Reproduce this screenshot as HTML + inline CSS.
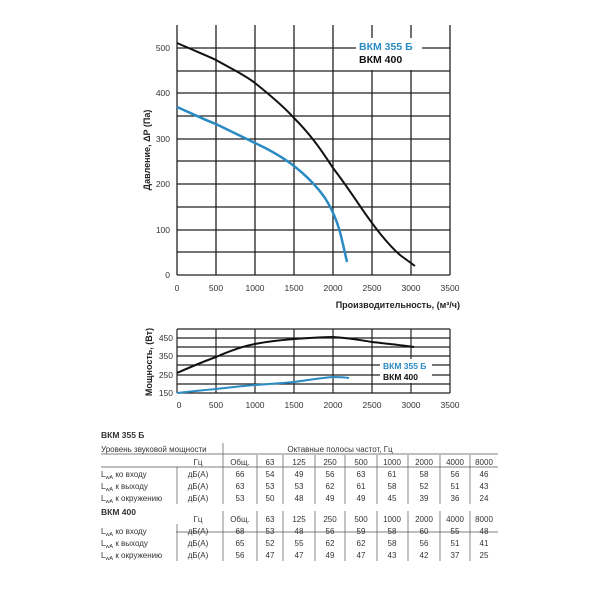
<!DOCTYPE html>
<html><head><meta charset="utf-8"><style>
html,body{margin:0;padding:0;background:#fff;}
svg{display:block;font-family:"Liberation Sans",sans-serif;}
</style></head><body>
<svg width="600" height="600" viewBox="0 0 600 600" xmlns="http://www.w3.org/2000/svg">
<g stroke="#222" stroke-width="1.3">
<line x1="177" y1="275" x2="450" y2="275"/><line x1="177" y1="252" x2="450" y2="252"/>
<line x1="177" y1="230" x2="450" y2="230"/><line x1="177" y1="207" x2="450" y2="207"/>
<line x1="177" y1="184" x2="450" y2="184"/><line x1="177" y1="161" x2="450" y2="161"/>
<line x1="177" y1="139" x2="450" y2="139"/><line x1="177" y1="116" x2="450" y2="116"/>
<line x1="177" y1="93" x2="450" y2="93"/><line x1="177" y1="71" x2="450" y2="71"/>
<line x1="177" y1="48" x2="450" y2="48"/>
<line x1="177" y1="25" x2="177" y2="275"/><line x1="216" y1="25" x2="216" y2="275"/>
<line x1="255" y1="25" x2="255" y2="275"/><line x1="294" y1="25" x2="294" y2="275"/>
<line x1="333" y1="25" x2="333" y2="275"/><line x1="372" y1="25" x2="372" y2="275"/>
<line x1="411" y1="25" x2="411" y2="275"/><line x1="450" y1="25" x2="450" y2="275"/>
</g>
<rect x="356" y="38" width="66" height="32" fill="#fff"/>
<text x="359" y="50" font-size="10.5" font-weight="bold" fill="#2a8ac4">ВКМ 355 Б</text>
<text x="359" y="63" font-size="10.5" font-weight="bold" fill="#111">ВКМ 400</text>
<g font-size="8.5" fill="#333" text-anchor="end">
<text x="170" y="278">0</text><text x="170" y="233">100</text><text x="170" y="187">200</text>
<text x="170" y="142">300</text><text x="170" y="96">400</text><text x="170" y="51">500</text>
</g>
<g font-size="8.5" fill="#333" text-anchor="middle">
<text x="177" y="291">0</text><text x="216" y="291">500</text><text x="255" y="291">1000</text>
<text x="294" y="291">1500</text><text x="333" y="291">2000</text><text x="372" y="291">2500</text>
<text x="411" y="291">3000</text><text x="450" y="291">3500</text>
</g>
<text x="460" y="308" font-size="9" font-weight="bold" fill="#222" text-anchor="end">Производительность, (м³/ч)</text>
<text transform="translate(150,150) rotate(-90)" font-size="9" font-weight="bold" fill="#222" text-anchor="middle">Давление, ΔP (Па)</text>
<path d="M177,43 C200,53 210,57 216,60 C230,68 245,75 255,83 C270,95 285,108 294,118 C310,134 320,148 333,168 C350,190 360,207 372,223 C385,240 395,252 399,258 C404,264 409,270 415,266" fill="none" stroke="#111" stroke-width="2" style="display:none"/>
<path d="M177,43 C200,53 210,57 216,60 C230,68 245,75 255,83 C270,95 285,108 294,118 C310,134 320,148 333,168 C350,190 360,207 372,223 C385,240 393,250 400,259 C405,265 410,270 415,266" fill="none" stroke="none"/>
<path d="M177,43 C200,53 210,57 216,60 C230,68 245,75 255,83 C270,95 285,108 294,118 C310,134 320,148 333,168 C350,190 360,207 372,223 C383,238 392,248 400,255 L415,266" fill="none" stroke="#111" stroke-width="2"/>
<path d="M177,107 C195,115 205,120 216,124 C230,131 243,137 255,143 C270,150 285,159 294,166 C308,177 318,188 325,198 C330,206 333,212 336,220 C340,230 342,240 347,262" fill="none" stroke="#2a8ac4" stroke-width="2.5"/>
<g stroke="#222" stroke-width="1.2">
<line x1="177" y1="329" x2="450" y2="329"/><line x1="177" y1="338" x2="450" y2="338"/>
<line x1="177" y1="347" x2="450" y2="347"/><line x1="177" y1="356" x2="450" y2="356"/>
<line x1="177" y1="365" x2="450" y2="365"/><line x1="177" y1="375" x2="450" y2="375"/>
<line x1="177" y1="384" x2="450" y2="384"/><line x1="177" y1="393" x2="450" y2="393"/>
<line x1="177" y1="329" x2="177" y2="393"/><line x1="216" y1="329" x2="216" y2="393"/>
<line x1="255" y1="329" x2="255" y2="393"/><line x1="294" y1="329" x2="294" y2="393"/>
<line x1="333" y1="329" x2="333" y2="393"/><line x1="372" y1="329" x2="372" y2="393"/>
<line x1="411" y1="329" x2="411" y2="393"/><line x1="450" y1="329" x2="450" y2="393"/>
</g>
<rect x="380" y="359" width="52" height="24" fill="#fff"/>
<text x="383" y="369" font-size="8.5" font-weight="bold" fill="#2a8ac4">ВКМ 355 Б</text>
<text x="383" y="380" font-size="8.5" font-weight="bold" fill="#111">ВКМ 400</text>
<g font-size="8.5" fill="#333" text-anchor="end">
<text x="173" y="341">450</text><text x="173" y="359">350</text><text x="173" y="378">250</text><text x="173" y="396">150</text>
</g>
<g font-size="8.5" fill="#333" text-anchor="middle">
<text x="179" y="408">0</text><text x="216" y="408">500</text><text x="255" y="408">1000</text>
<text x="294" y="408">1500</text><text x="333" y="408">2000</text><text x="372" y="408">2500</text>
<text x="411" y="408">3000</text><text x="450" y="408">3500</text>
</g>
<text transform="translate(152,362) rotate(-90)" font-size="9" font-weight="bold" fill="#222" text-anchor="middle">Мощность, (Вт)</text>
<path d="M177,373 C195,365 205,361 216,357 C232,350 244,346 255,344 C270,341 282,340 294,339 C310,338 320,337 333,337 C350,338 360,340 372,342 C390,344 400,345 414,347" fill="none" stroke="#111" stroke-width="2"/>
<path d="M177,393 C195,391 205,390 216,389 C232,387 244,386 255,385 C270,384 282,383 294,382 C310,380 320,378 333,377 C340,377 342,377 349,378" fill="none" stroke="#2a8ac4" stroke-width="2"/>
<g font-size="8" fill="#333">
<text x="101" y="438" font-weight="bold" font-size="8.5">ВКМ 355 Б</text>
<text x="101" y="452">Уровень звуковой мощности</text>
<text x="340" y="452" text-anchor="middle">Октавные полосы частот, Гц</text>
<text x="101" y="515" font-weight="bold" font-size="8.5">ВКМ 400</text>
</g>
<g stroke="#555" stroke-width="0.7">
<line x1="101" y1="454" x2="498" y2="454"/><line x1="101" y1="467" x2="498" y2="467"/>
<line x1="176" y1="532" x2="498" y2="532"/>
<line x1="223" y1="443" x2="223" y2="504"/><line x1="177" y1="467" x2="177" y2="504"/>
<line x1="223" y1="511" x2="223" y2="561"/><line x1="177" y1="524" x2="177" y2="561"/>
</g>
<g stroke="#555" stroke-width="0.7">
<line x1="257" y1="455" x2="257" y2="504"/><line x1="283" y1="455" x2="283" y2="504"/>
<line x1="315" y1="455" x2="315" y2="504"/><line x1="345" y1="455" x2="345" y2="504"/>
<line x1="377" y1="455" x2="377" y2="504"/><line x1="408" y1="455" x2="408" y2="504"/>
<line x1="440" y1="455" x2="440" y2="504"/><line x1="470" y1="455" x2="470" y2="504"/>
<line x1="257" y1="511" x2="257" y2="561"/><line x1="283" y1="511" x2="283" y2="561"/>
<line x1="315" y1="511" x2="315" y2="561"/><line x1="345" y1="511" x2="345" y2="561"/>
<line x1="377" y1="511" x2="377" y2="561"/><line x1="408" y1="511" x2="408" y2="561"/>
<line x1="440" y1="511" x2="440" y2="561"/><line x1="470" y1="511" x2="470" y2="561"/>
</g>
<g font-size="8" fill="#333">
<text x="101" y="477">L<tspan font-size="5.5" dy="2">wA</tspan><tspan dy="-2"> ко входу</tspan></text>
<text x="101" y="489">L<tspan font-size="5.5" dy="2">wA</tspan><tspan dy="-2"> к выходу</tspan></text>
<text x="101" y="501">L<tspan font-size="5.5" dy="2">wA</tspan><tspan dy="-2"> к окружению</tspan></text>
<text x="101" y="534">L<tspan font-size="5.5" dy="2">wA</tspan><tspan dy="-2"> ко входу</tspan></text>
<text x="101" y="546">L<tspan font-size="5.5" dy="2">wA</tspan><tspan dy="-2"> к выходу</tspan></text>
<text x="101" y="558">L<tspan font-size="5.5" dy="2">wA</tspan><tspan dy="-2"> к окружению</tspan></text>
</g>
<g font-size="8" fill="#333" text-anchor="middle">
<text x="198" y="465">Гц</text><text x="198" y="477">дБ(А)</text><text x="198" y="489">дБ(А)</text><text x="198" y="501">дБ(А)</text>
<text x="198" y="522">Гц</text><text x="198" y="534">дБ(А)</text><text x="198" y="546">дБ(А)</text><text x="198" y="558">дБ(А)</text>
</g>
<g font-size="8" fill="#333" text-anchor="middle">
<text y="465"><tspan x="240">Общ.</tspan><tspan x="270">63</tspan><tspan x="299">125</tspan><tspan x="330">250</tspan><tspan x="361">500</tspan><tspan x="392">1000</tspan><tspan x="424">2000</tspan><tspan x="455">4000</tspan><tspan x="484">8000</tspan></text>
<text y="477"><tspan x="240">66</tspan><tspan x="270">54</tspan><tspan x="299">49</tspan><tspan x="330">56</tspan><tspan x="361">63</tspan><tspan x="392">61</tspan><tspan x="424">58</tspan><tspan x="455">56</tspan><tspan x="484">46</tspan></text>
<text y="489"><tspan x="240">63</tspan><tspan x="270">53</tspan><tspan x="299">53</tspan><tspan x="330">62</tspan><tspan x="361">61</tspan><tspan x="392">58</tspan><tspan x="424">52</tspan><tspan x="455">51</tspan><tspan x="484">43</tspan></text>
<text y="501"><tspan x="240">53</tspan><tspan x="270">50</tspan><tspan x="299">48</tspan><tspan x="330">49</tspan><tspan x="361">49</tspan><tspan x="392">45</tspan><tspan x="424">39</tspan><tspan x="455">36</tspan><tspan x="484">24</tspan></text>
<text y="522"><tspan x="240">Общ.</tspan><tspan x="270">63</tspan><tspan x="299">125</tspan><tspan x="330">250</tspan><tspan x="361">500</tspan><tspan x="392">1000</tspan><tspan x="424">2000</tspan><tspan x="455">4000</tspan><tspan x="484">8000</tspan></text>
<text y="534"><tspan x="240">68</tspan><tspan x="270">53</tspan><tspan x="299">48</tspan><tspan x="330">56</tspan><tspan x="361">59</tspan><tspan x="392">58</tspan><tspan x="424">60</tspan><tspan x="455">55</tspan><tspan x="484">48</tspan></text>
<text y="546"><tspan x="240">65</tspan><tspan x="270">52</tspan><tspan x="299">55</tspan><tspan x="330">62</tspan><tspan x="361">62</tspan><tspan x="392">58</tspan><tspan x="424">56</tspan><tspan x="455">51</tspan><tspan x="484">41</tspan></text>
<text y="558"><tspan x="240">56</tspan><tspan x="270">47</tspan><tspan x="299">47</tspan><tspan x="330">49</tspan><tspan x="361">47</tspan><tspan x="392">43</tspan><tspan x="424">42</tspan><tspan x="455">37</tspan><tspan x="484">25</tspan></text>
</g>
</svg>
</body></html>
